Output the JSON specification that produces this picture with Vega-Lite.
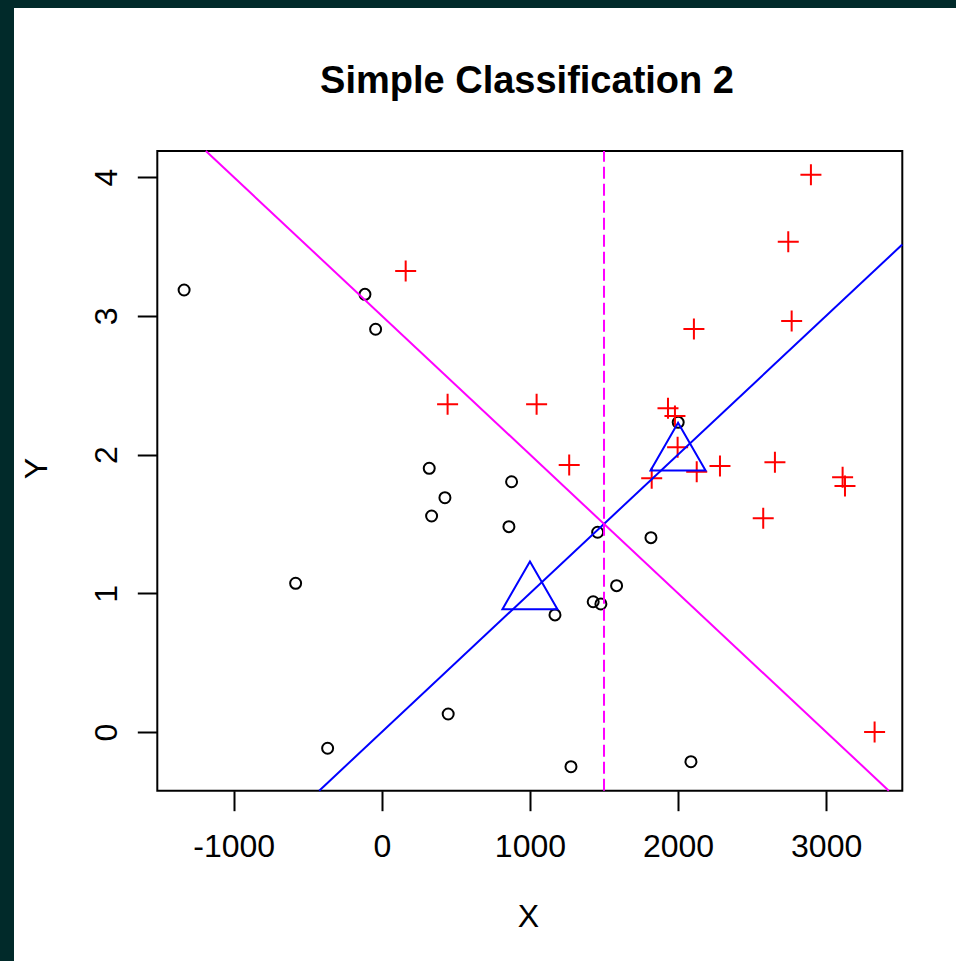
{
  "$schema": "https://vega.github.io/schema/vega-lite/v6.json",
  "width": 942,
  "height": 953,
  "autosize": {"type": "none"},
  "padding": {"left": 14, "top": 8, "right": 0, "bottom": 0},
  "background": "#012a2a",
  "config": {"view": {"fill": "white", "stroke": null}, "font": "Liberation Sans"},
  "title": {
    "text": "Simple Classification 2",
    "fontSize": 38,
    "fontWeight": "bold",
    "font": "Liberation Sans",
    "color": "black",
    "anchor": "middle",
    "frame": "group",
    "baseline": "alphabetic",
    "offset": -123,
    "dx": 42
  },
  "datasets": {
    "frame": [
      {"x": -1516, "x2": 3514, "y": -0.423, "y2": 4.188}
    ],
    "pts": [
      {"cls": "o", "x": -1335, "y": 3.186},
      {"cls": "o", "x": -114, "y": 3.155},
      {"cls": "o", "x": -42, "y": 2.903},
      {"cls": "o", "x": 320, "y": 1.901},
      {"cls": "o", "x": 876, "y": 1.804},
      {"cls": "o", "x": 426, "y": 1.689},
      {"cls": "o", "x": 336, "y": 1.557},
      {"cls": "o", "x": 858, "y": 1.48},
      {"cls": "o", "x": -582, "y": 1.072},
      {"cls": "o", "x": 448, "y": 0.13},
      {"cls": "o", "x": -366, "y": -0.117},
      {"cls": "o", "x": 1457, "y": 1.44},
      {"cls": "o", "x": 1817, "y": 1.401},
      {"cls": "o", "x": 1585, "y": 1.055},
      {"cls": "o", "x": 1427, "y": 0.939},
      {"cls": "o", "x": 1479, "y": 0.923},
      {"cls": "o", "x": 1169, "y": 0.844},
      {"cls": "o", "x": 1277, "y": -0.25},
      {"cls": "o", "x": 2087, "y": -0.214},
      {"cls": "o", "x": 2001, "y": 2.232},
      {"cls": "+", "x": 161, "y": 3.323},
      {"cls": "+", "x": 444, "y": 2.362},
      {"cls": "+", "x": 1045, "y": 2.362},
      {"cls": "+", "x": 1265, "y": 1.925},
      {"cls": "+", "x": 1822, "y": 1.829},
      {"cls": "+", "x": 2575, "y": 1.54},
      {"cls": "+", "x": 3111, "y": 1.836},
      {"cls": "+", "x": 3127, "y": 1.773},
      {"cls": "+", "x": 3327, "y": 0.0},
      {"cls": "+", "x": 2897, "y": 4.017},
      {"cls": "+", "x": 2744, "y": 3.534},
      {"cls": "+", "x": 2767, "y": 2.962},
      {"cls": "+", "x": 2107, "y": 2.905},
      {"cls": "+", "x": 1932, "y": 2.333},
      {"cls": "+", "x": 1979, "y": 2.278},
      {"cls": "+", "x": 1997, "y": 2.052},
      {"cls": "+", "x": 2283, "y": 1.917},
      {"cls": "+", "x": 2126, "y": 1.876},
      {"cls": "+", "x": 2654, "y": 1.944}
    ],
    "means": [
      {"x": 1000, "y": 1.0},
      {"x": 2000, "y": 2.0}
    ],
    "lines": [
      {"id": "lda", "x": -423, "y": -0.423},
      {"id": "lda", "x": 3514, "y": 3.514},
      {"id": "perp", "x": -1188, "y": 4.188},
      {"id": "perp", "x": 3423, "y": -0.423},
      {"id": "mid", "x": 1500, "y": -0.423},
      {"id": "mid", "x": 1500, "y": 4.188}
    ]
  },
  "encoding": {
    "x": {
      "field": "x",
      "type": "quantitative",
      "scale": {"domain": [-1516, 3514], "range": [143.3, 888.3], "nice": false, "zero": false},
      "axis": {
        "title": "X",
        "values": [-1000, 0, 1000, 2000, 3000],
        "labelExpr": "'' + datum.value",
        "domain": false,
        "grid": false,
        "offset": -170.3,
        "tickSize": 20,
        "tickWidth": 2,
        "tickColor": "black",
        "labelFont": "Liberation Sans",
        "labelFontSize": 32,
        "labelColor": "black",
        "labelAlign": "center",
        "labelBaseline": "alphabetic",
        "labelPadding": 46,
        "labelFlush": false,
        "labelOverlap": false,
        "titleFont": "Liberation Sans",
        "titleFontSize": 32,
        "titleFontWeight": "normal",
        "titleColor": "black",
        "titleAlign": "center",
        "titleBaseline": "alphabetic",
        "titleX": 514,
        "titleY": 136
      }
    },
    "y": {
      "field": "y",
      "type": "quantitative",
      "scale": {"domain": [-0.423, 4.188], "range": [782.7, 143.0], "nice": false, "zero": false},
      "axis": {
        "title": "Y",
        "values": [0, 1, 2, 3, 4],
        "labelExpr": "'' + datum.value",
        "domain": false,
        "grid": false,
        "offset": -143.3,
        "tickSize": 20,
        "tickWidth": 2,
        "tickColor": "black",
        "labelFont": "Liberation Sans",
        "labelFontSize": 32,
        "labelColor": "black",
        "labelAngle": 270,
        "labelAlign": "center",
        "labelBaseline": "alphabetic",
        "labelPadding": 20.6,
        "labelFlush": false,
        "labelOverlap": false,
        "titleFont": "Liberation Sans",
        "titleFontSize": 32,
        "titleFontWeight": "normal",
        "titleColor": "black",
        "titleAngle": 270,
        "titleAlign": "center",
        "titleBaseline": "alphabetic",
        "titleX": -110.6,
        "titleY": 460
      }
    }
  },
  "layer": [
    {
      "data": {"name": "frame"},
      "mark": {"type": "rect", "fill": null, "stroke": "black", "strokeWidth": 2, "opacity": 1},
      "encoding": {
        "x2": {"field": "x2"},
        "y2": {"field": "y2"}
      }
    },
    {
      "data": {"name": "pts"},
      "transform": [{"filter": "datum.cls == 'o'"}],
      "mark": {"type": "point", "shape": "circle", "filled": false, "stroke": "black", "strokeWidth": 2, "size": 121, "opacity": 1}
    },
    {
      "data": {"name": "pts"},
      "transform": [{"filter": "datum.cls == '+'"}],
      "mark": {"type": "point", "shape": "M-1,0L1,0M0,-1L0,1", "filled": false, "stroke": "#ff0000", "strokeWidth": 2, "size": 441, "opacity": 1}
    },
    {
      "data": {"name": "means"},
      "mark": {"type": "point", "shape": "M0,-1.1547L1,0.5774L-1,0.5774Z", "filled": false, "stroke": "#0000ff", "strokeWidth": 2, "size": 3025, "opacity": 1}
    },
    {
      "data": {"name": "lines"},
      "transform": [{"filter": "datum.id == 'lda'"}],
      "mark": {"type": "line", "color": "#0000ff", "strokeWidth": 2},
      "encoding": {"order": {"field": "x", "type": "quantitative"}}
    },
    {
      "data": {"name": "lines"},
      "transform": [{"filter": "datum.id == 'perp'"}],
      "mark": {"type": "line", "color": "#ff00ff", "strokeWidth": 2},
      "encoding": {"order": {"field": "x", "type": "quantitative"}}
    },
    {
      "data": {"name": "lines"},
      "transform": [{"filter": "datum.id == 'mid'"}],
      "mark": {"type": "line", "color": "#ff00ff", "strokeWidth": 2, "strokeDash": [12, 5]},
      "encoding": {"order": {"field": "y", "type": "quantitative"}}
    }
  ]
}
